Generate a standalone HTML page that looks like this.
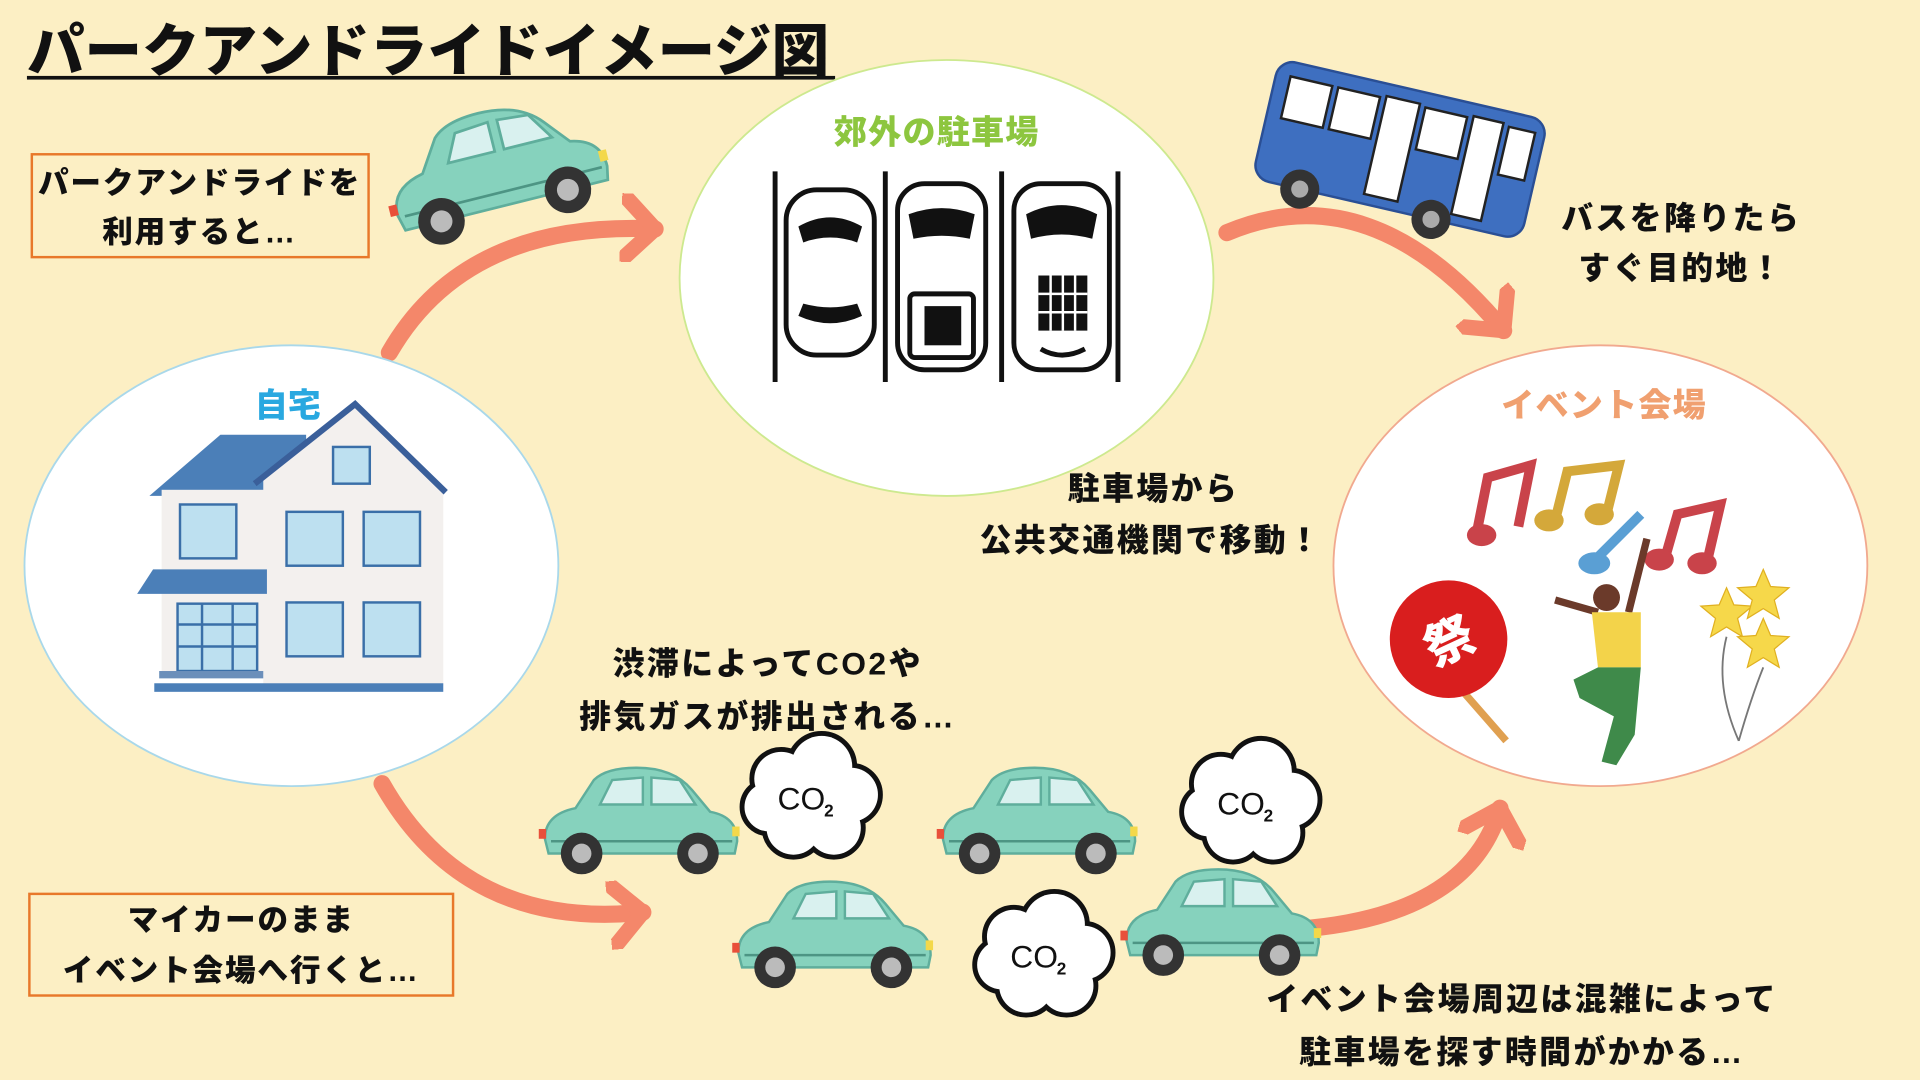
<!DOCTYPE html>
<html><head><meta charset="utf-8"><style>
html,body{margin:0;padding:0;background:#fcefc4;}
svg{display:block}
text{font-family:"Liberation Sans","Noto Sans CJK JP",sans-serif;font-weight:900;}
</style></head><body>
<svg width="1920" height="1080" viewBox="0 0 1568 882" xmlns="http://www.w3.org/2000/svg">
<defs>
<g id="car">
<path d="M5,60 Q5,40 30,35 L45,12 Q55,2 80,2 Q110,2 125,20 L140,38 Q162,42 162,62 L160,72 L8,72 Z" fill="#86d2bd" stroke="#5fae9c" stroke-width="2"/>
<path d="M50,32 L60,12 L85,10 L85,32Z M92,10 L115,12 L128,32 L92,32Z" fill="#d9f1ef" stroke="#5fae9c" stroke-width="2"/>
<path d="M10,62 L158,62" stroke="#4d9584" stroke-width="2"/>
<rect x="0" y="52" width="6" height="8" fill="#e8503a"/>
<rect x="158" y="50" width="6" height="8" fill="#f3d84a"/>
<circle cx="35" cy="72" r="17" fill="#333"/><circle cx="35" cy="72" r="8" fill="#bbb"/>
<circle cx="130" cy="72" r="17" fill="#333"/><circle cx="130" cy="72" r="8" fill="#bbb"/>
</g>
<g id="cloud">
<g stroke="#111" stroke-width="8" fill="#111">
<circle cx="-25" cy="-15" r="22"/><circle cx="8" cy="-25" r="25"/><circle cx="32" cy="-2" r="22"/><circle cx="18" cy="25" r="22"/><circle cx="-15" cy="25" r="22"/><circle cx="-35" cy="8" r="20"/><circle cx="0" cy="0" r="30"/>
</g>
<g fill="#fff">
<circle cx="-25" cy="-15" r="22"/><circle cx="8" cy="-25" r="25"/><circle cx="32" cy="-2" r="22"/><circle cx="18" cy="25" r="22"/><circle cx="-15" cy="25" r="22"/><circle cx="-35" cy="8" r="20"/><circle cx="0" cy="0" r="30"/>
</g>
<text x="-28" y="10" font-size="26" fill="#111" style="font-weight:400">CO</text><text x="10" y="16" font-size="14" fill="#111" style="font-weight:700">2</text>
</g>
<marker id="ah" markerWidth="4" markerHeight="4" refX="2" refY="2" orient="auto" markerUnits="strokeWidth"><path d="M0,0 L2,2 L0,4" fill="none" stroke="#f4876a" stroke-width="0.9" stroke-linecap="round" stroke-linejoin="round"/></marker>
</defs>

<text x="22" y="58" font-size="47" fill="#111">パークアンドライドイメージ図</text>
<rect x="22" y="62" width="660" height="3" fill="#111"/>

<g fill="none" stroke="#f4876a" stroke-width="14" stroke-linecap="round" marker-end="url(#ah)">
<path d="M318,288 Q380,180 535,187"/>
<path d="M1002,190 Q1120,140 1228,270"/>
<path d="M312,640 Q380,760 525,745"/>
<path d="M1070,758 Q1200,745 1225,660"/>
</g>

<ellipse cx="238" cy="462" rx="218" ry="180" fill="#fff" stroke="#a9d8ea" stroke-width="1.5"/>
<ellipse cx="773" cy="227" rx="218" ry="178" fill="#fff" stroke="#cde98f" stroke-width="1.5"/>
<ellipse cx="1307" cy="462" rx="218" ry="180" fill="#fff" stroke="#f1a98f" stroke-width="1.5"/>

<text x="235" y="340" font-size="27" fill="#29a8e0" text-anchor="middle">自宅</text>
<text x="765" y="117" font-size="27" fill="#8dc63f" text-anchor="middle" letter-spacing="1">郊外の駐車場</text>
<text x="1310" y="340" font-size="27" fill="#f0a070" text-anchor="middle" letter-spacing="1">イベント会場</text>

<g>
<polygon points="122,405 180,355 250,355 250,405" fill="#4b7fb8"/>
<rect x="132" y="400" width="90" height="150" fill="#f3f0ee"/>
<polygon points="215,390 290,330 362,400 362,560 215,560" fill="#f3f0ee"/>
<polyline points="208,395 290,330 364,402" fill="none" stroke="#3a5f9a" stroke-width="5"/>
<rect x="272" y="365" width="30" height="30" fill="#bde0f0" stroke="#3a6fa8" stroke-width="2"/>
<rect x="147" y="412" width="46" height="44" fill="#bde0f0" stroke="#3a6fa8" stroke-width="2"/>
<rect x="234" y="418" width="46" height="44" fill="#bde0f0" stroke="#3a6fa8" stroke-width="2"/>
<rect x="297" y="418" width="46" height="44" fill="#bde0f0" stroke="#3a6fa8" stroke-width="2"/>
<rect x="234" y="492" width="46" height="44" fill="#bde0f0" stroke="#3a6fa8" stroke-width="2"/>
<rect x="297" y="492" width="46" height="44" fill="#bde0f0" stroke="#3a6fa8" stroke-width="2"/>
<polygon points="112,485 125,465 218,465 218,485" fill="#4b7fb8"/>
<rect x="145" y="493" width="65" height="55" fill="#bde0f0" stroke="#3a6fa8" stroke-width="2"/>
<path d="M165,493 V548 M190,493 V548 M145,510 H210 M145,528 H210" stroke="#3a6fa8" stroke-width="2"/>
<rect x="130" y="548" width="85" height="6" fill="#6b8fba"/>
<rect x="126" y="558" width="236" height="7" fill="#4b7fb8"/>
</g>

<g stroke="#111" stroke-width="4" fill="#fff">
<path d="M633,140 V312 M723,140 V312 M818,140 V312 M913,140 V312"/>
<rect x="642" y="155" width="72" height="135" rx="25"/>
<rect x="733" y="150" width="72" height="152" rx="22"/>
<rect x="828" y="150" width="78" height="152" rx="22"/>
</g>
<g fill="#111">
<path d="M652,185 Q678,170 704,185 L700,198 Q678,190 656,198Z"/>
<path d="M652,258 Q678,270 704,258 L700,248 Q678,254 656,248Z"/>
<path d="M742,175 Q769,165 796,175 L792,195 Q769,190 746,195Z"/>
<rect x="743" y="240" width="52" height="52" rx="4" fill="none" stroke="#111" stroke-width="4"/>
<rect x="755" y="250" width="30" height="32"/>
<path d="M838,175 Q867,160 896,175 L892,195 Q867,188 842,195Z"/>
<rect x="848" y="225" width="40" height="45"/>
<path d="M850,285 Q867,295 886,285" stroke="#111" stroke-width="4" fill="none"/>
</g>
<g stroke="#fff" stroke-width="2"><path d="M858,225 V270 M868,225 V270 M878,225 V270 M848,240 H888 M848,255 H888"/></g>

<g transform="translate(1045,48) rotate(13)">
<rect x="0" y="0" width="225" height="100" rx="14" fill="#3e6fc0" stroke="#2a4f95" stroke-width="2"/>
<rect x="12" y="12" width="35" height="35" fill="#fff" stroke="#222" stroke-width="2"/>
<rect x="52" y="12" width="35" height="35" fill="#fff" stroke="#222" stroke-width="2"/>
<rect x="92" y="10" width="28" height="82" fill="#fff" stroke="#222" stroke-width="2"/>
<rect x="125" y="12" width="35" height="35" fill="#fff" stroke="#222" stroke-width="2"/>
<rect x="165" y="10" width="25" height="82" fill="#fff" stroke="#222" stroke-width="2"/>
<rect x="195" y="12" width="22" height="40" fill="#fff" stroke="#222" stroke-width="2"/>
<circle cx="40" cy="100" r="16" fill="#333"/><circle cx="40" cy="100" r="7" fill="#aaa"/>
<circle cx="150" cy="100" r="16" fill="#333"/><circle cx="150" cy="100" r="7" fill="#aaa"/>
</g>

<g transform="translate(303,112) rotate(-14) scale(1.12)"><use href="#car"/></g>
<g transform="translate(440,625)"><use href="#car"/></g>
<g transform="translate(765,625)"><use href="#car"/></g>
<g transform="translate(598,718)"><use href="#car"/></g>
<g transform="translate(915,708)"><use href="#car"/></g>

<g transform="translate(663,651)"><use href="#cloud"/></g>
<g transform="translate(1022,655)"><use href="#cloud"/></g>
<g transform="translate(853,780)"><use href="#cloud"/></g>

<g>
<path d="M1205,440 L1215,390 L1250,380 L1240,430" fill="none" stroke="#c9434a" stroke-width="8"/>
<ellipse cx="1210" cy="437" rx="12" ry="9" fill="#c9434a"/>
<path d="M1270,425 L1280,385 L1322,380 L1312,420" fill="none" stroke="#d4a83a" stroke-width="8"/>
<ellipse cx="1265" cy="425" rx="12" ry="9" fill="#d4a83a"/><ellipse cx="1306" cy="420" rx="12" ry="9" fill="#d4a83a"/>
<path d="M1305,455 L1340,420" stroke="#5a9fd4" stroke-width="8"/>
<ellipse cx="1302" cy="460" rx="13" ry="9" fill="#5a9fd4"/>
<path d="M1360,455 L1370,420 L1405,412 L1395,455" fill="none" stroke="#c9434a" stroke-width="8"/>
<ellipse cx="1355" cy="457" rx="12" ry="9" fill="#c9434a"/><ellipse cx="1390" cy="460" rx="12" ry="9" fill="#c9434a"/>
<path d="M1195,565 L1230,605" stroke="#e0a050" stroke-width="6"/>
<circle cx="1183" cy="522" r="48" fill="#d91e1e"/>
<text x="1183" y="538" font-size="40" fill="#fff" text-anchor="middle" transform="rotate(-25 1183 522)">祭</text>
<path d="M1270,490 L1305,500 M1345,440 L1330,500" stroke="#6b3a2a" stroke-width="6"/>
<circle cx="1312" cy="488" r="11" fill="#6b3a2a"/>
<path d="M1300,500 L1340,500 L1340,545 L1305,545Z" fill="#f3d34a"/>
<path d="M1305,545 L1340,545 L1335,600 L1320,625 L1308,622 L1318,585 L1290,570 L1285,555Z" fill="#3f8a4a"/>
<g fill="#f6d84a" stroke="#e0b020" stroke-width="1">
<polygon points="1410,480 1416,494 1431,495 1419,505 1423,520 1410,512 1397,520 1401,505 1389,495 1404,494"/>
<polygon points="1440,465 1446,479 1461,480 1449,490 1453,505 1440,497 1427,505 1431,490 1419,480 1434,479"/>
<polygon points="1440,505 1446,519 1461,520 1449,530 1453,545 1440,537 1427,545 1431,530 1419,520 1434,519"/>
</g>
<path d="M1410,520 Q1400,560 1420,605 M1440,545 Q1430,570 1420,605" stroke="#777" fill="none" stroke-width="1.5"/>
</g>

<rect x="26" y="126" width="275" height="84" fill="none" stroke="#e8782a" stroke-width="2"/>
<text x="163" y="158" font-size="25" fill="#111" text-anchor="middle" letter-spacing="1.5">パークアンドライドを</text>
<text x="163" y="198" font-size="25" fill="#111" text-anchor="middle" letter-spacing="1.5">利用すると…</text>
<rect x="24" y="730" width="346" height="83" fill="none" stroke="#e8782a" stroke-width="2"/>
<text x="197" y="760" font-size="25" fill="#111" text-anchor="middle" letter-spacing="1.5">マイカーのまま</text>
<text x="197" y="801" font-size="25" fill="#111" text-anchor="middle" letter-spacing="1.5">イベント会場へ行くと…</text>

<g font-size="26" fill="#111" text-anchor="middle" letter-spacing="2">
<text x="1373" y="187">バスを降りたら</text>
<text x="1373" y="228">すぐ目的地！</text>
<text x="942" y="408">駐車場から</text>
<text x="940" y="450">公共交通機関で移動！</text>
<text x="627" y="551">渋滞によってCO2や</text>
<text x="627" y="594">排気ガスが排出される…</text>
<text x="1243" y="825">イベント会場周辺は混雑によって</text>
<text x="1243" y="868">駐車場を探す時間がかかる…</text>
</g>
</svg>
</body></html>
